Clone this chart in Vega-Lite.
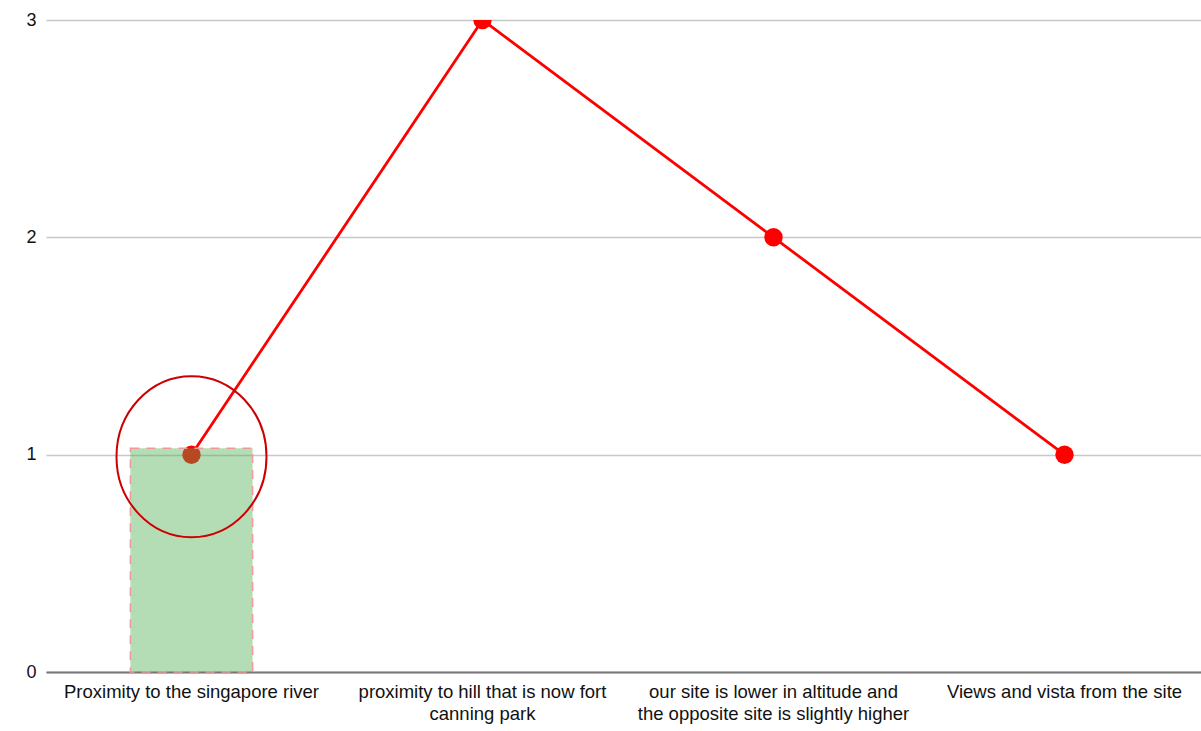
{
  "$schema": "https://vega.github.io/schema/vega-lite/v6.json",
  "autosize": "none",
  "width": 1156,
  "height": 652,
  "padding": {"left": 45, "top": 20, "right": 0, "bottom": 59},
  "background": "white",
  "config": {
    "view": {"stroke": null},
    "font": "Arial, Liberation Sans, sans-serif"
  },
  "data": {
    "values": [
      {"category": "Proximity to the singapore river", "score": 1, "highlight": 1.03},
      {"category": "proximity to hill that is now fort canning park", "score": 3, "highlight": null},
      {"category": "our site is lower in altitude and the opposite site is slightly higher", "score": 2, "highlight": null},
      {"category": "Views and vista from the site", "score": 1, "highlight": null}
    ]
  },
  "encoding": {
    "x": {
      "field": "category",
      "type": "nominal",
      "sort": null,
      "scale": {"range": [1, 1165], "paddingInner": 0, "paddingOuter": 0},
      "axis": {
        "title": null,
        "labelAngle": 0,
        "labelFontSize": 18.5,
        "labelColor": "#111",
        "labelPadding": 10,
        "labelLineHeight": 22,
        "labelLimit": 400,
        "ticks": false,
        "grid": false,
        "domainColor": "#777",
        "domainWidth": 2,
        "labelExpr": "datum.value == 'proximity to hill that is now fort canning park' ? ['proximity to hill that is now fort', 'canning park'] : datum.value == 'our site is lower in altitude and the opposite site is slightly higher' ? ['our site is lower in altitude and', 'the opposite site is slightly higher'] : datum.label"
      }
    }
  },
  "layer": [
    {
      "mark": {"type": "line", "color": "#ff0000", "strokeWidth": 2.8, "clip": true},
      "encoding": {
        "y": {
          "field": "score",
          "type": "quantitative",
          "scale": {"domain": [0, 3], "nice": false},
          "axis": {
            "title": null,
            "values": [0, 1, 2, 3],
            "format": "d",
            "labelFontSize": 18,
            "labelColor": "#111",
            "labelPadding": 9,
            "ticks": false,
            "domain": false,
            "gridColor": "#c8c8c8",
            "gridWidth": 1.3
          }
        }
      }
    },
    {
      "mark": {"type": "point", "filled": true, "color": "#ff0000", "opacity": 1, "size": 340, "clip": true},
      "encoding": {
        "y": {"field": "score", "type": "quantitative"}
      }
    },
    {
      "mark": {
        "type": "bar",
        "width": {"band": 0.42},
        "fill": "#4caf50",
        "fillOpacity": 0.42,
        "stroke": "#ef9a9a",
        "strokeWidth": 1.5,
        "strokeDash": [9, 7]
      },
      "encoding": {
        "y": {"field": "highlight", "type": "quantitative"}
      }
    },
    {
      "transform": [{"filter": "datum.highlight != null"}],
      "mark": {
        "type": "point",
        "shape": "M-1,0A1,1.073,0,1,0,1,0A1,1.073,0,1,0,-1,0Z",
        "filled": false,
        "stroke": "#cc0000",
        "strokeWidth": 2,
        "opacity": 1,
        "size": 22500,
        "yOffset": 2
      },
      "encoding": {
        "y": {"field": "score", "type": "quantitative"}
      }
    }
  ]
}
